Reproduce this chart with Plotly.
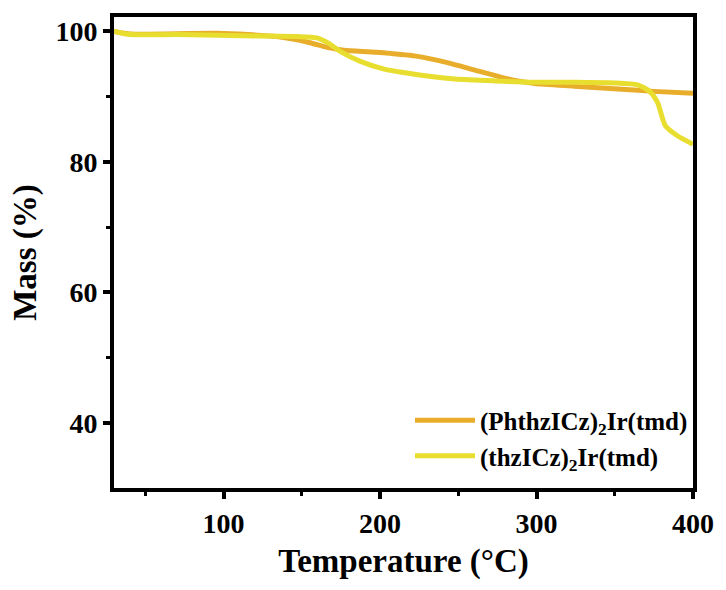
import plotly.graph_objects as go

temp_a = [30, 40.6, 96, 134, 154.6, 167, 177, 197.6, 223, 243, 263, 283.7, 299, 324, 349.5, 374.8, 400]
mass_a = [100, 99.6, 99.7, 99.2, 98.3, 97.5, 97.1, 96.8, 96.2, 95.2, 93.9, 92.6, 92.0, 91.6, 91.2, 90.8, 90.5]

temp_b = [30, 40.6, 71, 121.6, 147, 159.6, 167, 174.8, 187.5, 202.7, 223, 248, 273.5, 299, 324, 349.5, 364.7, 372.3, 377.3, 382.4, 390, 400]
mass_b = [100, 99.5, 99.5, 99.3, 99.2, 99.0, 98.2, 96.9, 95.4, 94.2, 93.4, 92.7, 92.4, 92.2, 92.2, 92.1, 91.8, 90.8, 89.1, 85.5, 84.0, 82.7]

name_a = "(PhthzICz)<sub>2</sub>Ir(tmd)"
name_b = "(thzICz)<sub>2</sub>Ir(tmd)"

FONT = "Liberation Serif"

fig = go.Figure()
fig.add_trace(go.Scatter(x=temp_a, y=mass_a, mode="lines", name=name_a,
                         line=dict(color="#E8AE2B", width=5, shape="spline", smoothing=0.6)))
fig.add_trace(go.Scatter(x=temp_b, y=mass_b, mode="lines", name=name_b,
                         line=dict(color="#E8DE30", width=5, shape="spline", smoothing=0.6)))

axis_common = dict(showline=True, linewidth=4, linecolor="black", mirror=True,
                   ticks="outside", ticklen=7, tickwidth=4, tickcolor="black",
                   showgrid=False, zeroline=False,
                   tickfont=dict(family=FONT, size=28, color="black", weight="bold"))

fig.update_xaxes(range=[30, 400], tickvals=[100, 200, 300, 400],
                 minor=dict(ticks="outside", ticklen=4, tickwidth=3, tickcolor="black",
                            tickvals=[50, 150, 250, 350]),
                 title=dict(text="Temperature (°C)",
                            font=dict(family=FONT, size=33, color="black", weight="bold"), standoff=12),
                 **axis_common)
fig.update_yaxes(range=[30, 102.2], tickvals=[40, 60, 80, 100],
                 minor=dict(ticks="outside", ticklen=4, tickwidth=3, tickcolor="black",
                            tickvals=[50, 70, 90]),
                 title=dict(text="Mass (%)",
                            font=dict(family=FONT, size=33, color="black", weight="bold"), standoff=10),
                 **axis_common)

fig.update_layout(
    width=726, height=590,
    margin=dict(l=114, r=25, t=17, b=102),
    plot_bgcolor="white", paper_bgcolor="white",
    font=dict(family=FONT, color="black"),
    legend=dict(x=1.0, y=0.02, xanchor="right", yanchor="bottom",
                bgcolor="rgba(0,0,0,0)",
                font=dict(family=FONT, size=25, color="black", weight="bold"),
                itemwidth=60, tracegroupgap=0),
)

fig.write_html("out.html")
